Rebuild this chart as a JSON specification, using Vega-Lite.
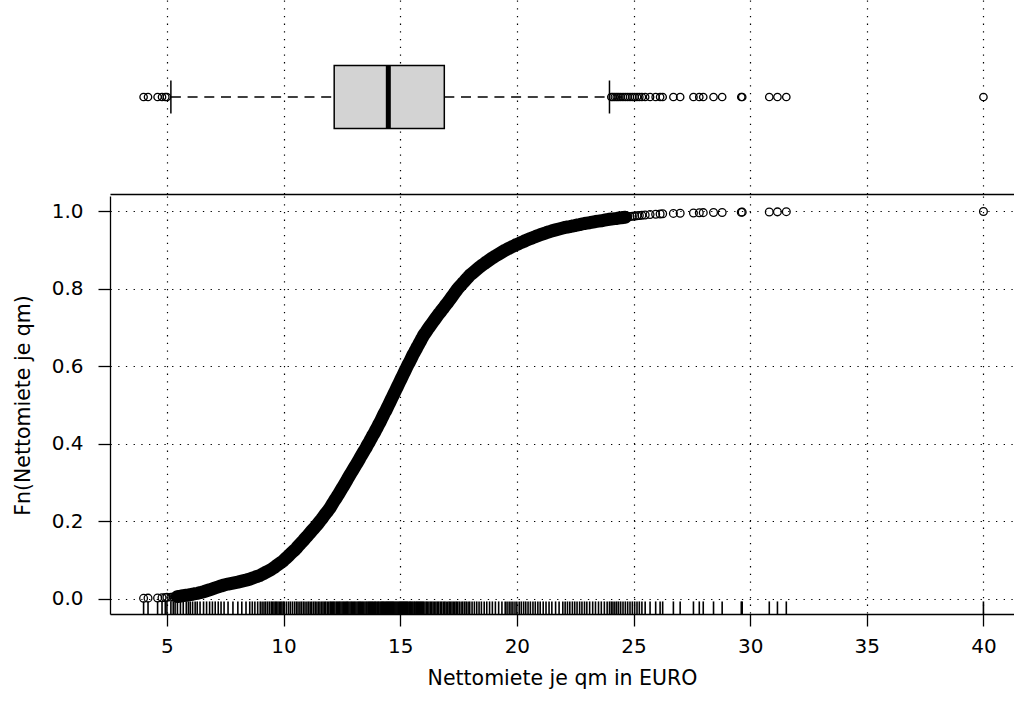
{
"$schema": "https://vega.github.io/schema/vega-lite/v6.json",
"background": "white",
"padding": {"left": 13, "right": 0, "top": 0, "bottom": 5},
"spacing": 2,
"config": {
  "font": "DejaVu Sans",
  "view": {"stroke": null},
  "axis": {"labelFont": "DejaVu Sans", "titleFont": "DejaVu Sans", "labelFontSize": 20, "titleFontSize": 20.5, "titleFontWeight": "normal", "labelColor": "black", "titleColor": "black", "tickColor": "black", "domainColor": "black", "gridColor": "black", "gridDash": [1.3, 6.4], "gridWidth": 1.2, "gridOpacity": 1, "tickWidth": 1.3, "domainWidth": 1.3, "labelFlush": false, "labelOverlap": false}
},
"datasets": {
  "box": [{"q1": 12.17, "med": 14.49, "q3": 16.89, "lo": 5.17, "hi": 23.97}],
  "miete": [
{"x":4.0,"F":0.0005},{"x":4.19,"F":0.001},{"x":4.6,"F":0.0015},{"x":4.79,"F":0.002},{"x":4.93,"F":0.0025},{"x":5.0,"F":0.003},{"x":5.17,"F":0.0035},{"x":5.27,"F":0.004},{"x":5.35,"F":0.0045},{"x":5.45,"F":0.005},{"x":5.58,"F":0.0062},{"x":5.7,"F":0.0075},{"x":5.83,"F":0.0085},{"x":5.92,"F":0.0092},{"x":6.0,"F":0.01},{"x":6.1,"F":0.011},{"x":6.21,"F":0.0125},{"x":6.3,"F":0.0135},{"x":6.42,"F":0.015},{"x":6.57,"F":0.0175},{"x":6.7,"F":0.02},{"x":6.83,"F":0.0225},{"x":6.95,"F":0.025},{"x":7.07,"F":0.0275},{"x":7.2,"F":0.03},{"x":7.32,"F":0.0325},{"x":7.45,"F":0.035},{"x":7.62,"F":0.0375},{"x":7.83,"F":0.04},{"x":8.04,"F":0.0425},{"x":8.21,"F":0.045},{"x":8.39,"F":0.0475},{"x":8.55,"F":0.05},{"x":8.66,"F":0.0525},{"x":8.77,"F":0.055},{"x":8.89,"F":0.0575},{"x":9.0,"F":0.06},{"x":9.08,"F":0.0625},{"x":9.16,"F":0.065},{"x":9.23,"F":0.0675},{"x":9.31,"F":0.07},{"x":9.39,"F":0.0725},{"x":9.47,"F":0.075},{"x":9.53,"F":0.0775},{"x":9.59,"F":0.08},{"x":9.65,"F":0.0825},{"x":9.7,"F":0.085},{"x":9.76,"F":0.0875},{"x":9.82,"F":0.09},{"x":9.88,"F":0.0925},{"x":9.93,"F":0.095},{"x":9.99,"F":0.0975},{"x":10.03,"F":0.1},
{"x":10.12,"F":0.105},{"x":10.21,"F":0.11},{"x":10.29,"F":0.115},{"x":10.38,"F":0.12},{"x":10.47,"F":0.125},{"x":10.55,"F":0.13},{"x":10.62,"F":0.135},{"x":10.7,"F":0.14},{"x":10.77,"F":0.145},{"x":10.85,"F":0.15},{"x":10.92,"F":0.155},{"x":11.0,"F":0.16},{"x":11.07,"F":0.165},{"x":11.14,"F":0.17},{"x":11.21,"F":0.175},{"x":11.29,"F":0.18},{"x":11.36,"F":0.185},{"x":11.43,"F":0.19},{"x":11.5,"F":0.195},{"x":11.56,"F":0.2},{"x":11.63,"F":0.205},{"x":11.69,"F":0.21},{"x":11.75,"F":0.215},{"x":11.81,"F":0.22},{"x":11.88,"F":0.225},{"x":11.94,"F":0.23},{"x":12.0,"F":0.235},{"x":12.05,"F":0.24},{"x":12.1,"F":0.245},{"x":12.15,"F":0.25},{"x":12.2,"F":0.255},{"x":12.26,"F":0.26},{"x":12.31,"F":0.265},{"x":12.36,"F":0.27},{"x":12.41,"F":0.275},{"x":12.46,"F":0.28},{"x":12.51,"F":0.285},{"x":12.56,"F":0.29},{"x":12.61,"F":0.295},{"x":12.66,"F":0.3},{"x":12.71,"F":0.305},{"x":12.75,"F":0.31},{"x":12.8,"F":0.315},{"x":12.85,"F":0.32},{"x":12.9,"F":0.325},{"x":12.95,"F":0.33},{"x":13.0,"F":0.335},{"x":13.05,"F":0.34},{"x":13.1,"F":0.345},{"x":13.15,"F":0.35},{"x":13.2,"F":0.355},{"x":13.25,"F":0.36},{"x":13.29,"F":0.365},{"x":13.34,"F":0.37},{"x":13.39,"F":0.375},{"x":13.44,"F":0.38},{"x":13.49,"F":0.385},{"x":13.54,"F":0.39},{"x":13.58,"F":0.395},{"x":13.63,"F":0.4},{"x":13.68,"F":0.405},{"x":13.72,"F":0.41},{"x":13.77,"F":0.415},{"x":13.81,"F":0.42},{"x":13.86,"F":0.425},{"x":13.91,"F":0.43},{"x":13.95,"F":0.435},{"x":14.0,"F":0.44},{"x":14.04,"F":0.445},{"x":14.08,"F":0.45},{"x":14.13,"F":0.455},{"x":14.17,"F":0.46},{"x":14.21,"F":0.465},{"x":14.25,"F":0.47},{"x":14.29,"F":0.475},{"x":14.33,"F":0.48},{"x":14.38,"F":0.485},{"x":14.42,"F":0.49},{"x":14.46,"F":0.495},{"x":14.5,"F":0.5},
{"x":14.54,"F":0.505},{"x":14.58,"F":0.51},{"x":14.62,"F":0.515},{"x":14.66,"F":0.52},{"x":14.7,"F":0.525},{"x":14.74,"F":0.53},{"x":14.78,"F":0.535},{"x":14.82,"F":0.54},{"x":14.86,"F":0.545},{"x":14.9,"F":0.55},{"x":14.94,"F":0.555},{"x":14.98,"F":0.56},{"x":15.02,"F":0.565},{"x":15.06,"F":0.57},{"x":15.1,"F":0.575},{"x":15.14,"F":0.58},{"x":15.18,"F":0.585},{"x":15.22,"F":0.59},{"x":15.26,"F":0.595},{"x":15.3,"F":0.6},{"x":15.34,"F":0.605},{"x":15.39,"F":0.61},{"x":15.43,"F":0.615},{"x":15.47,"F":0.62},{"x":15.51,"F":0.625},{"x":15.55,"F":0.63},{"x":15.6,"F":0.635},{"x":15.64,"F":0.64},{"x":15.69,"F":0.645},{"x":15.73,"F":0.65},{"x":15.78,"F":0.655},{"x":15.82,"F":0.66},{"x":15.87,"F":0.665},{"x":15.91,"F":0.67},{"x":15.96,"F":0.675},{"x":16.0,"F":0.68},{"x":16.06,"F":0.685},{"x":16.12,"F":0.69},{"x":16.17,"F":0.695},{"x":16.23,"F":0.7},{"x":16.29,"F":0.705},{"x":16.35,"F":0.71},{"x":16.41,"F":0.715},{"x":16.47,"F":0.72},{"x":16.53,"F":0.725},{"x":16.59,"F":0.73},{"x":16.65,"F":0.735},{"x":16.72,"F":0.74},{"x":16.78,"F":0.745},{"x":16.85,"F":0.75},{"x":16.91,"F":0.755},{"x":16.97,"F":0.76},{"x":17.04,"F":0.765},{"x":17.1,"F":0.77},{"x":17.16,"F":0.775},{"x":17.22,"F":0.78},{"x":17.28,"F":0.785},{"x":17.34,"F":0.79},{"x":17.4,"F":0.795},{"x":17.46,"F":0.8},{"x":17.53,"F":0.805},{"x":17.61,"F":0.81},{"x":17.68,"F":0.815},{"x":17.76,"F":0.82},{"x":17.83,"F":0.825},{"x":17.91,"F":0.83},{"x":17.98,"F":0.835},{"x":18.08,"F":0.84},{"x":18.18,"F":0.845},{"x":18.28,"F":0.85},{"x":18.38,"F":0.855},{"x":18.48,"F":0.86},{"x":18.6,"F":0.865},{"x":18.71,"F":0.87},{"x":18.83,"F":0.875},{"x":18.95,"F":0.88},{"x":19.08,"F":0.885},{"x":19.22,"F":0.89},{"x":19.36,"F":0.895},{"x":19.5,"F":0.9},
{"x":19.58,"F":0.9025},{"x":19.67,"F":0.905},{"x":19.75,"F":0.9075},{"x":19.83,"F":0.91},{"x":19.92,"F":0.9125},{"x":20.0,"F":0.915},{"x":20.1,"F":0.9175},{"x":20.19,"F":0.92},{"x":20.29,"F":0.9225},{"x":20.38,"F":0.925},{"x":20.48,"F":0.9275},{"x":20.58,"F":0.93},{"x":20.69,"F":0.9325},{"x":20.79,"F":0.935},{"x":20.9,"F":0.9375},{"x":21.0,"F":0.94},{"x":21.13,"F":0.9425},{"x":21.25,"F":0.945},{"x":21.38,"F":0.9475},{"x":21.5,"F":0.95},{"x":21.66,"F":0.9525},{"x":21.81,"F":0.955},{"x":21.97,"F":0.9575},{"x":22.07,"F":0.959},{"x":22.17,"F":0.96},{"x":22.27,"F":0.961},{"x":22.38,"F":0.9625},{"x":22.48,"F":0.9635},{"x":22.58,"F":0.965},{"x":22.69,"F":0.966},{"x":22.79,"F":0.9675},{"x":22.9,"F":0.969},{"x":23.0,"F":0.97},{"x":23.12,"F":0.971},{"x":23.25,"F":0.9725},{"x":23.37,"F":0.974},{"x":23.5,"F":0.975},{"x":23.62,"F":0.976},{"x":23.75,"F":0.9775},{"x":23.87,"F":0.979},{"x":23.97,"F":0.98},
{"x":24.05,"F":0.9805},{"x":24.12,"F":0.981},{"x":24.2,"F":0.9815},{"x":24.28,"F":0.982},{"x":24.36,"F":0.983},{"x":24.45,"F":0.9835},{"x":24.55,"F":0.9845},{"x":24.65,"F":0.985},{"x":24.75,"F":0.986},{"x":24.85,"F":0.987},{"x":24.95,"F":0.9875},{"x":25.05,"F":0.988},{"x":25.15,"F":0.989},{"x":25.25,"F":0.9895},{"x":25.36,"F":0.99},{"x":25.5,"F":0.991},{"x":25.71,"F":0.992},{"x":25.95,"F":0.993},{"x":26.14,"F":0.9935},{"x":26.25,"F":0.994},{"x":26.71,"F":0.995},{"x":27.0,"F":0.9955},{"x":27.57,"F":0.996},{"x":27.82,"F":0.9965},{"x":27.99,"F":0.997},{"x":28.43,"F":0.9972},{"x":28.8,"F":0.9975},{"x":29.62,"F":0.998},{"x":29.66,"F":0.9983},{"x":30.82,"F":0.9987},{"x":31.17,"F":0.999},{"x":31.55,"F":0.9995},{"x":40.0,"F":1.0}
  ]
},
"vconcat": [
  {
    "width": 904, "height": 194,
    "view": {"stroke": null},
    "layer": [
      {"data": {"name": "box"},
       "mark": {"type": "rule", "color": "black", "strokeWidth": 1.3, "strokeDash": [10, 6.7]},
       "encoding": {
         "x": {"field": "lo", "type": "quantitative", "scale": {"domain": [2.56, 41.31], "nice": false, "zero": false},
               "axis": {"values": [5, 10, 15, 20, 25, 30, 35, 40], "grid": true, "domain": true, "ticks": false, "labels": false, "title": null}},
         "x2": {"field": "q1"},
         "y": {"datum": 0, "type": "quantitative", "scale": {"domain": [-1, 1], "nice": false, "zero": false}, "axis": null}
       }},
      {"data": {"name": "box"},
       "mark": {"type": "rule", "color": "black", "strokeWidth": 1.3, "strokeDash": [10, 6.7]},
       "encoding": {
         "x": {"field": "q3", "type": "quantitative", "scale": {"domain": [2.56, 41.31], "nice": false, "zero": false},
               "axis": {"values": [5, 10, 15, 20, 25, 30, 35, 40], "grid": true, "domain": true, "ticks": false, "labels": false, "title": null}},
         "x2": {"field": "hi"},
         "y": {"datum": 0, "type": "quantitative", "scale": {"domain": [-1, 1], "nice": false, "zero": false}, "axis": null}
       }},
      {"data": {"name": "box"},
       "mark": {"type": "rule", "color": "black", "strokeWidth": 1.5},
       "encoding": {
         "x": {"field": "lo", "type": "quantitative", "scale": {"domain": [2.56, 41.31], "nice": false, "zero": false},
               "axis": {"values": [5, 10, 15, 20, 25, 30, 35, 40], "grid": true, "domain": true, "ticks": false, "labels": false, "title": null}},
         "y": {"datum": -0.17, "type": "quantitative", "scale": {"domain": [-1, 1], "nice": false, "zero": false}, "axis": null},
         "y2": {"datum": 0.17}
       }},
      {"data": {"name": "box"},
       "mark": {"type": "rule", "color": "black", "strokeWidth": 1.5},
       "encoding": {
         "x": {"field": "hi", "type": "quantitative", "scale": {"domain": [2.56, 41.31], "nice": false, "zero": false},
               "axis": {"values": [5, 10, 15, 20, 25, 30, 35, 40], "grid": true, "domain": true, "ticks": false, "labels": false, "title": null}},
         "y": {"datum": -0.17, "type": "quantitative", "scale": {"domain": [-1, 1], "nice": false, "zero": false}, "axis": null},
         "y2": {"datum": 0.17}
       }},
      {"data": {"name": "box"},
       "mark": {"type": "rect", "fill": "#d3d3d3", "stroke": "black", "strokeWidth": 1.5},
       "encoding": {
         "x": {"field": "q1", "type": "quantitative", "scale": {"domain": [2.56, 41.31], "nice": false, "zero": false},
               "axis": {"values": [5, 10, 15, 20, 25, 30, 35, 40], "grid": true, "domain": true, "ticks": false, "labels": false, "title": null}},
         "x2": {"field": "q3"},
         "y": {"datum": -0.325, "type": "quantitative", "scale": {"domain": [-1, 1], "nice": false, "zero": false}, "axis": null},
         "y2": {"datum": 0.325}
       }},
      {"data": {"name": "box"},
       "mark": {"type": "rule", "color": "black", "strokeWidth": 5},
       "encoding": {
         "x": {"field": "med", "type": "quantitative", "scale": {"domain": [2.56, 41.31], "nice": false, "zero": false},
               "axis": {"values": [5, 10, 15, 20, 25, 30, 35, 40], "grid": true, "domain": true, "ticks": false, "labels": false, "title": null}},
         "y": {"datum": -0.325, "type": "quantitative", "scale": {"domain": [-1, 1], "nice": false, "zero": false}, "axis": null},
         "y2": {"datum": 0.325}
       }},
      {"data": {"name": "miete"},
       "transform": [{"filter": "datum.x < 5.09 || datum.x > 23.98"}],
       "mark": {"type": "point", "shape": "circle", "filled": false, "color": "black", "size": 55, "strokeWidth": 1.3, "opacity": 1},
       "encoding": {
         "x": {"field": "x", "type": "quantitative", "scale": {"domain": [2.56, 41.31], "nice": false, "zero": false},
               "axis": {"values": [5, 10, 15, 20, 25, 30, 35, 40], "grid": true, "domain": true, "ticks": false, "labels": false, "title": null}},
         "y": {"datum": 0, "type": "quantitative", "scale": {"domain": [-1, 1], "nice": false, "zero": false}, "axis": null}
       }}
    ]
  },
  {
    "width": 904, "height": 418,
    "view": {"stroke": null},
    "data": {"name": "miete"},
    "layer": [
      {"transform": [{"filter": "datum.F >= 0.005 && datum.F <= 0.985"}],
       "mark": {"type": "line", "color": "black", "strokeWidth": 13, "strokeCap": "round", "strokeJoin": "round"},
       "encoding": {
         "x": {"field": "x", "type": "quantitative", "scale": {"domain": [2.56, 41.31], "nice": false, "zero": false},
               "axis": {"orient": "bottom", "values": [5, 10, 15, 20, 25, 30, 35, 40], "grid": true, "tickSize": 12, "labelPadding": 10, "title": "Nettomiete je qm in EURO", "titlePadding": 12}},
         "y": {"field": "F", "type": "quantitative", "scale": {"domain": [-0.04, 1.04], "nice": false, "zero": false},
               "axis": {"values": [0, 0.2, 0.4, 0.6, 0.8, 1], "format": ".1f", "grid": true, "tickSize": 12, "labelPadding": 15, "title": "Fn(Nettomiete je qm)", "titlePadding": 18}}
       }},
      {"mark": {"type": "point", "shape": "circle", "filled": false, "color": "black", "size": 60, "strokeWidth": 1.3, "opacity": 1},
       "encoding": {
         "x": {"field": "x", "type": "quantitative", "scale": {"domain": [2.56, 41.31], "nice": false, "zero": false},
               "axis": {"orient": "bottom", "values": [5, 10, 15, 20, 25, 30, 35, 40], "grid": true, "tickSize": 12, "labelPadding": 10, "title": "Nettomiete je qm in EURO", "titlePadding": 12}},
         "y": {"field": "F", "type": "quantitative", "scale": {"domain": [-0.04, 1.04], "nice": false, "zero": false},
               "axis": {"values": [0, 0.2, 0.4, 0.6, 0.8, 1], "format": ".1f", "grid": true, "tickSize": 12, "labelPadding": 15, "title": "Fn(Nettomiete je qm)", "titlePadding": 18}}
       }},
      {"mark": {"type": "rule", "color": "black", "strokeWidth": 1.6},
       "encoding": {
         "x": {"field": "x", "type": "quantitative", "scale": {"domain": [2.56, 41.31], "nice": false, "zero": false},
               "axis": {"orient": "bottom", "values": [5, 10, 15, 20, 25, 30, 35, 40], "grid": true, "tickSize": 12, "labelPadding": 10, "title": "Nettomiete je qm in EURO", "titlePadding": 12}},
         "y": {"datum": -0.04, "type": "quantitative", "scale": {"domain": [-0.04, 1.04], "nice": false, "zero": false},
               "axis": {"values": [0, 0.2, 0.4, 0.6, 0.8, 1], "format": ".1f", "grid": true, "tickSize": 12, "labelPadding": 15, "title": "Fn(Nettomiete je qm)", "titlePadding": 18}},
         "y2": {"datum": -0.0075}
       }}
    ]
  }
]
}
